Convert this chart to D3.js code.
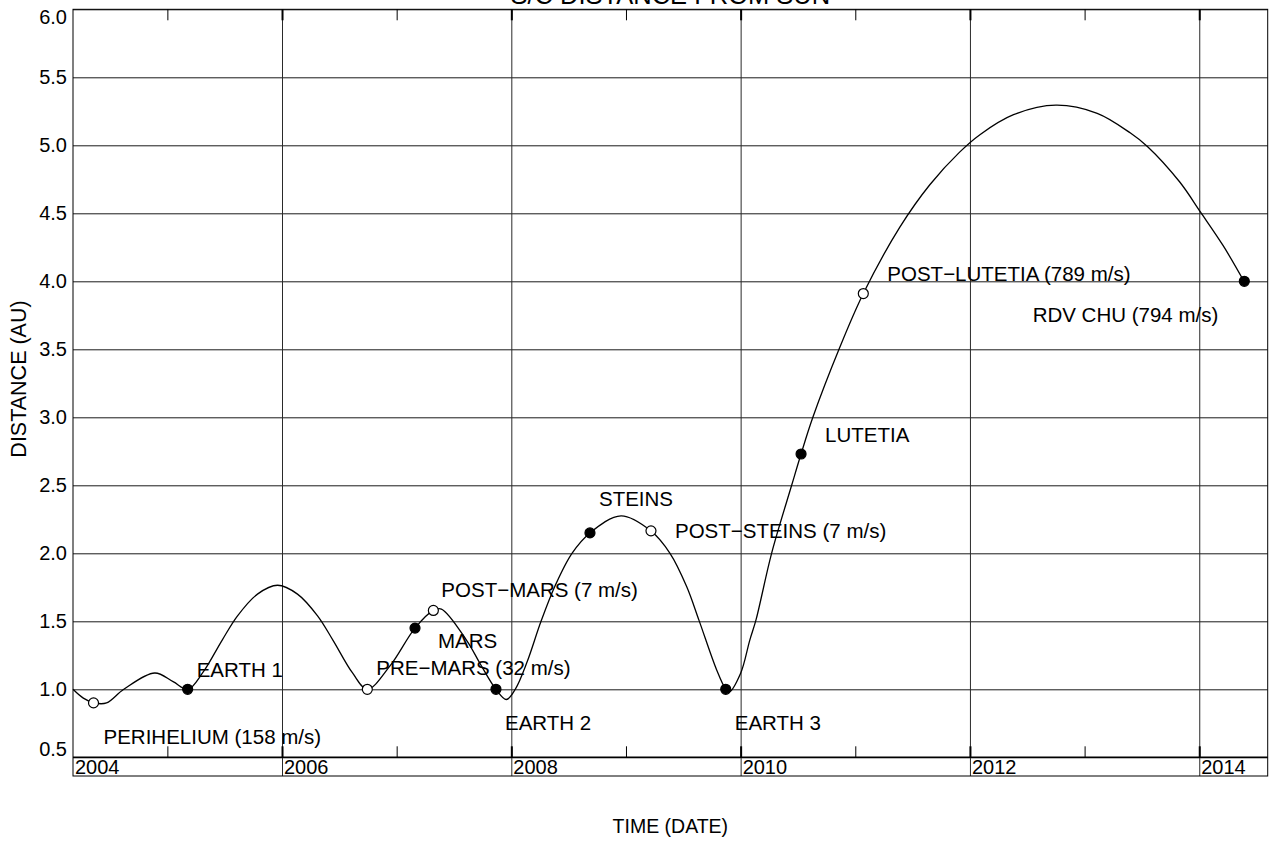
<!DOCTYPE html>
<html>
<head>
<meta charset="utf-8">
<script src="https://cdn.jsdelivr.net/npm/d3@7"></script>
<style>
  body { margin: 0; background: #fff; }
  svg { display: block; }
  text { font-family: "Liberation Sans", Arial, Helvetica, sans-serif; fill: #000; }
</style>
</head>
<body>
<svg id="chart" width="1273" height="845"></svg>
<script>
// Spacecraft heliocentric distance: decimal year and distance in AU
const trackYears = [
  2004.177, 2004.267, 2004.36, 2004.47, 2004.62, 2004.89, 2005.05, 2005.18,
  2005.307, 2005.477, 2005.612, 2005.786, 2005.961, 2006.135, 2006.31, 2006.445,
  2006.615, 2006.744, 2006.94, 2007.16, 2007.32, 2007.39, 2007.61, 2007.727,
  2007.866, 2007.957, 2008.034, 2008.137, 2008.259, 2008.381, 2008.529,
  2008.686, 2008.957, 2009.218, 2009.384, 2009.53, 2009.637, 2009.791,
  2009.87, 2009.90, 2010.00, 2010.08, 2010.134, 2010.27, 2010.445, 2010.527,
  2010.63, 2010.858, 2011.07, 2011.39, 2011.65, 2011.91, 2012.09, 2012.38,
  2012.75, 2013.11, 2013.40, 2013.55, 2013.83, 2014.01, 2014.21, 2014.39
];
const trackAU = [
  1.00, 0.935, 0.90, 0.90, 1.00, 1.12, 1.056, 1.00,
  1.12, 1.36, 1.54, 1.70, 1.765, 1.70, 1.54, 1.36,
  1.12, 1.00, 1.17, 1.45, 1.58, 1.59, 1.36, 1.19,
  1.00, 0.925, 1.00, 1.20, 1.50, 1.76, 2.00,
  2.15, 2.275, 2.164, 2.00, 1.754, 1.507, 1.142,
  1.00, 0.98, 1.118, 1.362, 1.51, 2.00, 2.50, 2.73,
  3.00, 3.50, 3.91, 4.40, 4.71, 4.95, 5.08, 5.225,
  5.295, 5.235, 5.09, 4.99, 4.73, 4.51, 4.26, 4.00
];

// Mission events along the trajectory
const eventNames = [
  "PERIHELIUM (158 m/s)", "EARTH 1", "PRE\u2212MARS (32 m/s)", "MARS",
  "POST\u2212MARS (7 m/s)", "EARTH 2", "STEINS", "POST\u2212STEINS (7 m/s)",
  "EARTH 3", "LUTETIA", "POST\u2212LUTETIA (789 m/s)", "RDV CHU (794 m/s)"
];
const eventYears = [
  2004.356, 2005.177, 2006.744, 2007.16, 2007.32, 2007.866,
  2008.686, 2009.218, 2009.87, 2010.527, 2011.07, 2014.393
];
const eventAU = [
  0.90, 1.00, 1.00, 1.45, 1.58, 1.00,
  2.15, 2.165, 1.00, 2.73, 3.91, 4.00
];
const eventKinds = [
  "manoeuvre", "swingby", "manoeuvre", "swingby", "manoeuvre", "swingby",
  "swingby", "manoeuvre", "swingby", "swingby", "manoeuvre", "swingby"
];

const yTickValues = [0.5, 1.0, 1.5, 2.0, 2.5, 3.0, 3.5, 4.0, 4.5, 5.0, 5.5, 6.0];
const yearLabels = [2004, 2006, 2008, 2010, 2012, 2014];
const minorYears = [2005, 2007, 2009, 2011, 2013];

const titleText = "S/C DISTANCE FROM SUN";
const xTitle = "TIME (DATE)";
const yTitle = "DISTANCE (AU)";

(function draw() {
  // ---- layout ----
  const pl = 73, pr = 1267.7, pt = 9.3, pb = 757.3, bandBottom = 776;
  const svg = d3.select("#chart");

  const x = d3.scaleLinear().domain([2004.177, 2014.597]).range([pl, pr]);
  const y = d3.scaleLinear().domain([0.5, 6.0]).range([pb, pt]);

  // horizontal grid + value labels
  const yAxis = d3.axisLeft(y)
    .tickValues(yTickValues)
    .tickSize(-(pr - pl))
    .tickPadding(6)
    .tickFormat(d3.format(".1f"));
  const gy = svg.append("g").attr("transform", `translate(${pl},0)`).call(yAxis);
  gy.select(".domain").remove();
  gy.selectAll(".tick line").attr("stroke", "#1a1a1a").attr("stroke-width", 1);
  gy.selectAll(".tick text")
    .attr("font-size", 20)
    .attr("font-family", null)
    .attr("dy", d => d === 6.0 ? "0.72em" : (d === 0.5 ? "-0.08em" : "0.33em"));

  // vertical grid at even years, running down through the date band
  const majorInside = yearLabels.filter(v => x(v) > pl + 1);
  const gx = svg.append("g").attr("transform", `translate(0,${bandBottom})`)
    .call(d3.axisBottom(x).tickValues(majorInside)
      .tickSize(-(bandBottom - pt)).tickFormat(""));
  gx.select(".domain").remove();
  gx.selectAll(".tick line").attr("stroke", "#2a2a2a").attr("stroke-width", 1);

  // inward ticks on the top and bottom edges
  function edgeTicks(axisFn, yPos, values, width) {
    const g = svg.append("g").attr("transform", `translate(0,${yPos})`)
      .call(axisFn(x).tickValues(values).tickSize(-11).tickFormat(""));
    g.select(".domain").remove();
    g.selectAll(".tick line").attr("stroke", "#000").attr("stroke-width", width);
  }
  edgeTicks(d3.axisTop, pt, majorInside, 2);
  edgeTicks(d3.axisTop, pt, minorYears, 1);
  edgeTicks(d3.axisBottom, pb, majorInside, 2);
  edgeTicks(d3.axisBottom, pb, minorYears, 1);

  // plot frame and date band
  svg.append("rect")
    .attr("x", pl).attr("y", pt)
    .attr("width", pr - pl).attr("height", bandBottom - pt)
    .attr("fill", "none").attr("stroke", "#000").attr("stroke-width", 1);
  svg.append("line")
    .attr("x1", pl).attr("x2", pr).attr("y1", pb).attr("y2", pb)
    .attr("stroke", "#000").attr("stroke-width", 1.6);

  // year labels inside the band
  svg.append("g").selectAll("text").data(yearLabels).join("text")
    .attr("x", d => Math.max(x(d), pl) + 2)
    .attr("y", 774)
    .attr("font-size", 20)
    .text(d => d);

  // trajectory
  const track = trackYears.map((t, i) => [t, trackAU[i]]);
  svg.append("path")
    .datum(track)
    .attr("fill", "none")
    .attr("stroke", "#000")
    .attr("stroke-width", 1.3)
    .attr("d", d3.line()
      .x(d => x(d[0]))
      .y(d => y(d[1]))
      .curve(d3.curveCatmullRom.alpha(0.5)));

  // event markers
  const events = eventNames.map((n, i) => ({
    name: n, t: eventYears[i], au: eventAU[i], kind: eventKinds[i]
  }));
  svg.append("g").selectAll("circle").data(events).join("circle")
    .attr("cx", d => x(d.t))
    .attr("cy", d => y(d.au))
    .attr("r", 5)
    .attr("fill", d => d.kind === "swingby" ? "#000" : "#fff")
    .attr("stroke", "#000")
    .attr("stroke-width", 1.2);

  // event labels, offset from their markers
  const labelOffsets = [
    [10, 41], [9, -12], [9, -14], [23, 20],
    [8, -13], [9, 41], [9, -27], [24, 7],
    [9, 41], [24, -12], [24, -13], [-26, 41]
  ];
  svg.append("g").selectAll("text").data(events).join("text")
    .attr("x", (d, i) => x(d.t) + labelOffsets[i][0])
    .attr("y", (d, i) => y(d.au) + labelOffsets[i][1])
    .attr("text-anchor", (d, i) => labelOffsets[i][0] < 0 ? "end" : "start")
    .attr("font-size", 20.5)
    .text(d => d.name);

  // titles
  svg.append("text")
    .attr("x", (pl + pr) / 2).attr("y", 4)
    .attr("text-anchor", "middle")
    .attr("font-size", 25.5)
    .text(titleText);
  svg.append("text")
    .attr("x", (pl + pr) / 2).attr("y", 833)
    .attr("text-anchor", "middle")
    .attr("font-size", 19.5)
    .text(xTitle);
  svg.append("text")
    .attr("transform", `translate(26,379) rotate(-90)`)
    .attr("text-anchor", "middle")
    .attr("font-size", 21.5)
    .text(yTitle);
})();
</script>
</body>
</html>
